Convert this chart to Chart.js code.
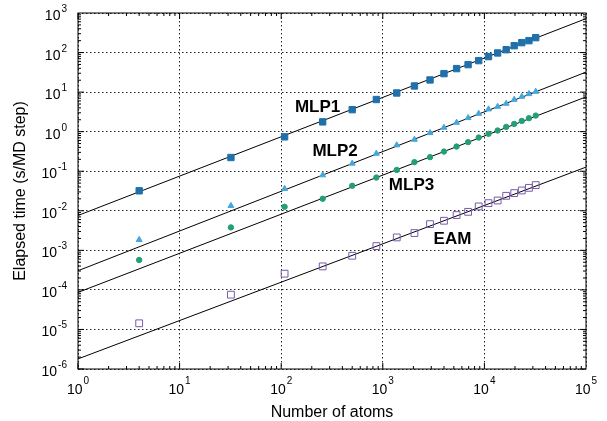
<!DOCTYPE html>
<html>
<head>
<meta charset="utf-8">
<script src="https://cdn.jsdelivr.net/npm/chart.js@4.4.0/dist/chart.umd.min.js"></script>
<style>
  html, body { margin: 0; padding: 0; background: #fff; }
  #wrap { width: 607px; height: 421px; }
</style>
</head>
<body>
<div id="wrap"><canvas id="myChart" width="607" height="421"></canvas></div>
<script>
'use strict';

// number of atoms, 4*n^3 for n = 1..20
let atoms = [4, 32, 108, 256, 500, 864, 1372, 2048, 2916, 4000, 5324, 6912, 8788, 10976, 13500, 16384, 19652, 23328, 27436, 32000];

let mlp1 = [0.032, 0.222, 0.74, 1.77, 3.6, 6.5, 9.5, 14.3, 20.3, 29.3, 39.3, 49.5, 62.5, 78.9, 97.7, 118, 149, 178, 200, 238];
let mlp2 = [0.00185, 0.0134, 0.036, 0.0797, 0.157, 0.28, 0.456, 0.632, 0.93, 1.27, 1.70, 2.23, 2.86, 3.70, 4.30, 5.13, 6.47, 7.7, 9.0, 10.3];
let mlp3 = [0.00057, 0.0038, 0.0126, 0.0201, 0.0428, 0.0693, 0.108, 0.170, 0.227, 0.314, 0.42, 0.543, 0.71, 0.88, 1.07, 1.32, 1.57, 1.87, 2.19, 2.55];
let eam = [1.43e-5, 7.57e-5, 2.57e-4, 3.93e-4, 7.3e-4, 1.28e-3, 2.12e-3, 2.73e-3, 4.6e-3, 5.6e-3, 7.8e-3, 9.4e-3, 0.0129, 0.0156, 0.0182, 0.0239, 0.028, 0.0326, 0.038, 0.0446];

// fitted lines, value at x = 1 and x = 1e5
let fitX = [1, 1e5];
let fitMlp1 = [0.0076, 720];
let fitMlp2 = [3.05e-4, 32];
let fitMlp3 = [8.65e-5, 7.57];
let fitEam = [1.8e-6, 0.127];

let seriesNames = ['MLP1', 'MLP2', 'MLP3', 'EAM'];
let labelX = [228, 339, 1918, 4853];
let labelY = [4.46, 0.330, 0.0475, 0.00202];

let xTicks = [0, 1, 2, 3, 4, 5];          // exponents
let yTicks = [-6, -5, -4, -3, -2, -1, 0, 1, 2, 3];

function toPoints(xs, ys) {
    let pts = [];
    for (let i = 0; i < xs.length; i++) {
        pts.push({ x: xs[i], y: ys[i] });
    }
    return pts;
}

function isDecade(v) {
    let l = Math.log10(v);
    return Math.abs(l - Math.round(l)) < 1e-6;
}

function markerSet(name, ys, style, color, radius, filled) {
    return {
        label: name,
        data: toPoints(atoms, ys),
        showLine: false,
        pointStyle: style,
        pointRadius: radius,
        pointBackgroundColor: filled ? color : 'rgba(0,0,0,0)',
        pointBorderColor: color,
        pointBorderWidth: 1
    };
}

function fitSet(ys) {
    return {
        data: toPoints(fitX, ys),
        showLine: true,
        borderColor: '#000',
        borderWidth: 1,
        pointRadius: 0
    };
}

function gridColor(c) {
    return isDecade(c.tick.value) ? '#222' : 'rgba(0,0,0,0)';
}

// frame, inward ticks, tick labels, titles and series labels
let decoPlugin = {
    id: 'deco',
    afterDraw(chart) {
        let ctx = chart.ctx;
        let a = chart.chartArea;
        let xs = chart.scales.x;
        let ys = chart.scales.y;
        ctx.save();
        ctx.setLineDash([]);
        ctx.strokeStyle = '#000';
        ctx.lineWidth = 1;
        ctx.strokeRect(a.left, a.top, a.right - a.left, a.bottom - a.top);

        ctx.beginPath();
        for (let e = 0; e < 5; e++) {
            for (let m = 1; m < 10; m++) {
                let px = xs.getPixelForValue(m * Math.pow(10, e));
                let len = m === 1 ? 6 : 3;
                ctx.moveTo(px, a.bottom); ctx.lineTo(px, a.bottom - len);
                ctx.moveTo(px, a.top); ctx.lineTo(px, a.top + len);
            }
        }
        for (let e = -6; e < 3; e++) {
            for (let m = 1; m < 10; m++) {
                let py = ys.getPixelForValue(m * Math.pow(10, e));
                let len = m === 1 ? 6 : 3;
                ctx.moveTo(a.left, py); ctx.lineTo(a.left + len, py);
                ctx.moveTo(a.right, py); ctx.lineTo(a.right - len, py);
            }
        }
        ctx.stroke();

        ctx.fillStyle = '#000';
        ctx.textBaseline = 'alphabetic';
        for (let i = 0; i < xTicks.length; i++) {
            let px = xs.getPixelForValue(Math.pow(10, xTicks[i]));
            ctx.font = '14px "Liberation Sans", Arial, sans-serif';
            let w1 = ctx.measureText('10').width;
            ctx.font = '10px "Liberation Sans", Arial, sans-serif';
            let w2 = ctx.measureText(String(xTicks[i])).width;
            let x0 = px - (w1 + w2 + 1) / 2;
            ctx.textAlign = 'left';
            ctx.font = '14px "Liberation Sans", Arial, sans-serif';
            ctx.fillText('10', x0, a.bottom + 25);
            ctx.font = '10px "Liberation Sans", Arial, sans-serif';
            ctx.fillText(String(xTicks[i]), x0 + w1 + 1, a.bottom + 15);
        }
        for (let i = 0; i < yTicks.length; i++) {
            let py = ys.getPixelForValue(Math.pow(10, yTicks[i]));
            let ex = String(yTicks[i]);
            ctx.font = '10px "Liberation Sans", Arial, sans-serif';
            let w2 = ctx.measureText(ex).width;
            ctx.textAlign = 'right';
            ctx.fillText(ex, a.left - 11, py - 1);
            ctx.font = '14px "Liberation Sans", Arial, sans-serif';
            ctx.fillText('10', a.left - 12 - w2, py + 7);
        }

        ctx.font = '16px "Liberation Sans", Arial, sans-serif';
        ctx.textAlign = 'center';
        ctx.fillText('Number of atoms', (a.left + a.right) / 2, 417);
        ctx.save();
        ctx.translate(25, (a.top + a.bottom) / 2);
        ctx.rotate(-Math.PI / 2);
        ctx.fillText('Elapsed time (s/MD step)', 0, 0);
        ctx.restore();

        ctx.font = 'bold 17px "Liberation Sans", Arial, sans-serif';
        ctx.textBaseline = 'middle';
        for (let i = 0; i < seriesNames.length; i++) {
            ctx.fillText(seriesNames[i], xs.getPixelForValue(labelX[i]), ys.getPixelForValue(labelY[i]) + 1);
        }
        ctx.restore();
    }
};

function chartRender() {
    let ctx = document.getElementById('myChart').getContext('2d');
    let myChart = new Chart(ctx, {
        type: 'scatter',
        data: {
            datasets: [
                markerSet('MLP1', mlp1, 'rect', '#1f70ab', 4.5, true),
                markerSet('MLP2', mlp2, 'triangle', '#45a6dc', 3.4, true),
                markerSet('MLP3', mlp3, 'circle', '#239e78', 2.7, true),
                markerSet('EAM', eam, 'rect', '#7a58ae', 4.8, false),
                fitSet(fitMlp1),
                fitSet(fitMlp2),
                fitSet(fitMlp3),
                fitSet(fitEam)
            ]
        },
        options: {
            responsive: false,
            animation: false,
            layout: { padding: { left: 78, right: 21, top: 13, bottom: 52 } },
            plugins: { legend: { display: false }, tooltip: { enabled: false } },
            scales: {
                x: {
                    type: 'logarithmic',
                    min: 1,
                    max: 1e5,
                    ticks: { display: false },
                    border: { display: false, dash: [1.5, 2.5] },
                    grid: { color: gridColor, drawTicks: false, lineWidth: 1 }
                },
                y: {
                    type: 'logarithmic',
                    min: 1e-6,
                    max: 1e3,
                    ticks: { display: false },
                    border: { display: false, dash: [1.5, 2.5] },
                    grid: { color: gridColor, drawTicks: false, lineWidth: 1 }
                }
            }
        },
        plugins: [decoPlugin]
    });
}
chartRender();
</script>
</body>
</html>
